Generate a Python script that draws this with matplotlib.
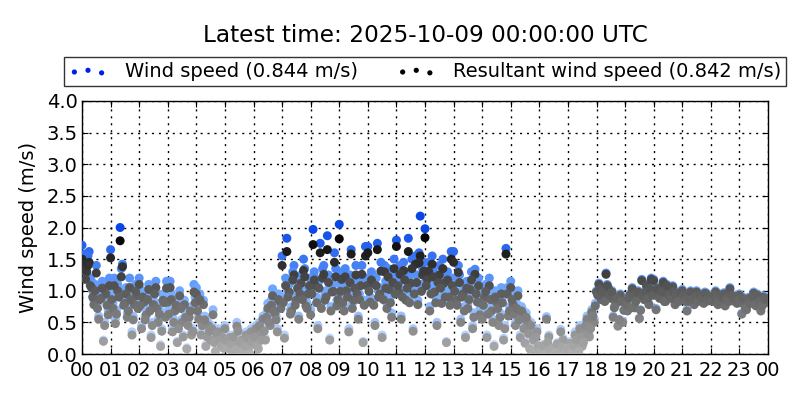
import numpy as np
import matplotlib
matplotlib.use("Agg")
import matplotlib.pyplot as plt
from matplotlib.colors import LinearSegmentedColormap

# ---------------- data ----------------
title_text = "Latest time: 2025-10-09 00:00:00 UTC"
wind_label = "Wind speed (0.844 m/s)"
resultant_label = "Resultant wind speed (0.842 m/s)"
sample_minutes = 5          # each set: one value every 5 minutes (12 per hour row)
offset_minutes_b = 2.5      # set B sits half-way between the set A samples

wind_speed_a = [
    1.72, 1.58, 1.50, 1.62, 1.15, 0.85, 1.40, 0.60, 0.95, 0.22, 1.05, 0.70,   # 00
    1.65, 0.80, 0.55, 1.10, 2.00, 1.42, 0.90, 0.65, 1.20, 0.35, 0.85, 1.00,   # 01
    1.20, 0.45, 0.90, 0.70, 1.10, 0.30, 0.85, 1.15, 0.55, 0.15, 0.95, 0.65,   # 02
    0.90, 1.15, 0.40, 0.75, 0.20, 1.00, 0.55, 0.85, 0.10, 0.65, 0.35, 1.10,   # 03
    1.05, 0.60, 0.35, 0.85, 0.15, 0.50, 0.25, 0.70, 0.05, 0.40, 0.20, 0.30,   # 04
    0.45, 0.15, 0.30, 0.05, 0.20, 0.50, 0.10, 0.25, 0.02, 0.35, 0.12, 0.40,   # 05
    0.20, 0.45, 0.10, 0.35, 0.60, 0.25, 0.80, 0.50, 1.03, 0.70, 0.40, 0.90,   # 06
    1.55, 0.30, 1.83, 1.10, 0.75, 1.40, 0.95, 0.60, 1.25, 1.50, 0.85, 1.05,   # 07
    0.70, 1.97, 1.20, 0.45, 1.75, 1.35, 0.95, 1.87, 0.25, 1.10, 1.60, 0.85,   # 08
    2.05, 1.30, 0.75, 1.10, 0.40, 1.65, 0.95, 1.40, 0.60, 1.20, 0.20, 1.70,   # 09
    1.70, 0.90, 1.25, 0.50, 1.75, 1.05, 0.30, 1.40, 0.80, 1.15, 0.65, 1.50,   # 10
    1.80, 1.10, 0.60, 1.45, 0.95, 1.83, 1.25, 0.40, 1.55, 0.85, 2.18, 1.35,   # 11
    1.98, 1.30, 0.75, 1.55, 1.10, 0.50, 1.40, 0.90, 1.25, 0.20, 1.00, 1.62,   # 12
    1.62, 0.95, 1.40, 0.55, 1.05, 0.30, 0.80, 1.15, 0.45, 1.34, 0.90, 0.70,   # 13
    0.60, 1.00, 0.30, 1.20, 0.75, 0.15, 0.90, 0.50, 1.05, 0.25, 1.67, 0.65,   # 14
    1.15, 0.85, 0.50, 1.00, 0.30, 0.70, 0.20, 0.55, 0.10, 0.35, 0.05, 0.40,   # 15
    0.10, 0.02, 0.05, 0.59, 0.30, 0.00, 0.03, 0.12, 0.00, 0.39, 0.25, 0.05,   # 16
    0.05, 0.20, 0.10, 0.35, 0.25, 0.45, 0.15, 0.40, 0.60, 0.30, 0.70, 0.55,   # 17
    1.00, 1.12, 0.88, 0.95, 1.28, 1.05, 0.90, 0.60, 0.80, 0.45, 0.95, 0.52,   # 18
    0.85, 0.70, 0.95, 1.05, 0.75, 0.90, 0.57, 1.18, 0.88, 1.10, 0.80, 1.20,   # 19
    1.18, 0.72, 1.05, 0.92, 1.15, 0.85, 1.00, 0.95, 1.08, 0.80, 0.98, 0.90,   # 20
    1.02, 0.90, 0.70, 0.85, 0.95, 0.80, 1.00, 0.88, 0.93, 0.82, 0.97, 0.86,   # 21
    0.92, 0.85, 1.00, 0.80, 0.95, 0.88, 0.78, 0.93, 1.05, 0.86, 0.90, 0.82,   # 22
    0.95, 0.65, 0.80, 0.72, 0.90, 0.85, 0.98, 0.78, 0.88, 0.70, 0.92, 0.83,   # 23
]

wind_speed_b = [
    1.45, 1.30, 1.55, 1.20, 1.00, 1.10, 0.80, 0.95, 1.15, 0.50, 0.85, 1.20,   # 00
    0.95, 1.20, 0.70, 1.00, 1.35, 0.85, 1.05, 0.75, 0.95, 0.60, 1.10, 0.80,   # 01
    0.85, 1.00, 0.60, 0.95, 0.75, 0.50, 1.05, 0.80, 0.70, 0.40, 0.90, 1.15,   # 02
    0.70, 0.95, 0.55, 0.85, 0.45, 0.80, 0.30, 0.65, 0.50, 0.75, 0.40, 0.90,   # 03
    0.75, 0.95, 0.50, 0.60, 0.30, 0.40, 0.45, 0.20, 0.35, 0.25, 0.15, 0.10,   # 04
    0.25, 0.10, 0.18, 0.30, 0.08, 0.40, 0.20, 0.05, 0.15, 0.28, 0.00, 0.22,   # 05
    0.30, 0.15, 0.50, 0.25, 0.40, 0.65, 0.55, 0.85, 0.75, 0.60, 0.95, 0.80,   # 06
    0.90, 1.20, 1.00, 0.70, 1.30, 0.85, 1.15, 1.05, 0.95, 1.35, 0.80, 1.20,   # 07
    1.05, 1.30, 0.90, 1.15, 0.80, 1.40, 1.00, 1.25, 0.75, 1.10, 1.35, 0.95,   # 08
    1.10, 0.90, 1.35, 1.00, 1.25, 0.80, 1.15, 1.05, 0.95, 1.40, 0.85, 1.20,   # 09
    1.10, 1.30, 0.85, 1.20, 1.00, 1.45, 0.95, 1.15, 1.35, 0.90, 1.25, 1.05,   # 10
    1.20, 1.40, 1.00, 1.30, 1.15, 0.90, 1.50, 1.05, 1.25, 1.60, 1.10, 1.45,   # 11
    1.20, 1.45, 1.05, 1.35, 0.90, 1.25, 1.15, 1.50, 1.00, 1.30, 0.85, 1.20,   # 12
    1.10, 0.85, 1.25, 1.00, 0.75, 1.15, 0.95, 1.30, 0.65, 1.05, 1.20, 0.90,   # 13
    0.85, 1.10, 0.70, 0.95, 0.55, 1.00, 0.80, 0.65, 0.90, 0.45, 1.05, 0.75,   # 14
    0.95, 0.70, 0.80, 0.60, 0.75, 0.45, 0.65, 0.35, 0.50, 0.25, 0.30, 0.15,   # 15
    0.05, 0.15, 0.00, 0.20, 0.08, 0.10, 0.02, 0.18, 0.05, 0.12, 0.00, 0.08,   # 16
    0.10, 0.02, 0.15, 0.25, 0.05, 0.30, 0.20, 0.50, 0.35, 0.45, 0.65, 0.80,   # 17
    0.95, 1.05, 1.00, 0.85, 1.10, 0.95, 1.00, 0.75, 0.90, 0.55, 0.85, 0.70,   # 18
    0.80, 0.90, 0.75, 0.95, 0.85, 1.00, 0.70, 0.95, 1.00, 0.90, 1.05, 0.95,   # 19
    0.95, 1.05, 0.90, 1.00, 0.85, 1.10, 0.95, 0.90, 1.00, 0.95, 0.85, 1.00,   # 20
    0.95, 0.85, 0.90, 1.00, 0.88, 0.92, 0.85, 0.95, 0.90, 0.98, 0.88, 0.92,   # 21
    0.88, 0.95, 0.90, 0.85, 0.92, 0.97, 0.88, 0.85, 0.95, 0.90, 0.93, 0.87,   # 22
    0.85, 0.90, 0.75, 0.88, 0.82, 0.92, 0.80, 0.95, 0.85, 0.78, 0.88, 0.90,   # 23
]

resultant_speed_a = [
    1.50, 1.42, 1.30, 1.45, 1.05, 0.78, 1.28, 0.55, 0.88, 0.20, 0.95, 0.62,   # 00
    1.52, 0.72, 0.48, 1.00, 1.79, 1.38, 0.80, 0.58, 1.05, 0.30, 0.78, 0.92,   # 01
    1.10, 0.40, 0.82, 0.62, 1.02, 0.26, 0.78, 1.05, 0.50, 0.12, 0.85, 0.58,   # 02
    0.82, 1.05, 0.35, 0.68, 0.18, 0.92, 0.50, 0.78, 0.08, 0.58, 0.30, 0.98,   # 03
    0.95, 0.55, 0.30, 0.78, 0.12, 0.45, 0.22, 0.62, 0.04, 0.35, 0.17, 0.26,   # 04
    0.40, 0.12, 0.26, 0.04, 0.17, 0.44, 0.08, 0.22, 0.02, 0.30, 0.10, 0.35,   # 05
    0.17, 0.40, 0.08, 0.30, 0.55, 0.22, 0.72, 0.45, 0.92, 0.64, 0.35, 0.83,   # 06
    1.40, 0.25, 1.62, 0.98, 0.68, 1.25, 0.85, 0.55, 1.12, 1.32, 0.76, 0.95,   # 07
    0.62, 1.73, 1.08, 0.40, 1.60, 1.20, 0.85, 1.65, 0.22, 0.98, 1.45, 0.76,   # 08
    1.82, 1.18, 0.68, 1.00, 0.35, 1.58, 0.85, 1.25, 0.55, 1.08, 0.18, 1.55,   # 09
    1.60, 0.82, 1.12, 0.45, 1.65, 0.95, 0.26, 1.30, 0.72, 1.02, 0.58, 1.35,   # 10
    1.70, 0.98, 0.55, 1.32, 0.85, 1.62, 1.12, 0.36, 1.42, 0.78, 1.55, 1.25,   # 11
    1.84, 1.18, 0.68, 1.42, 0.98, 0.45, 1.25, 0.80, 1.12, 0.18, 0.90, 1.50,   # 12
    1.45, 0.85, 1.29, 0.50, 0.95, 0.26, 0.72, 1.02, 0.40, 1.26, 0.82, 0.62,   # 13
    0.55, 0.90, 0.26, 1.08, 0.68, 0.12, 0.82, 0.45, 0.95, 0.22, 1.58, 0.60,   # 14
    1.05, 0.78, 0.45, 0.92, 0.26, 0.64, 0.17, 0.50, 0.08, 0.30, 0.04, 0.35,   # 15
    0.08, 0.02, 0.04, 0.55, 0.27, 0.00, 0.02, 0.10, 0.00, 0.35, 0.22, 0.04,   # 16
    0.04, 0.17, 0.08, 0.30, 0.22, 0.40, 0.12, 0.36, 0.55, 0.27, 0.66, 0.50,   # 17
    0.98, 1.10, 0.86, 0.93, 1.26, 1.03, 0.88, 0.58, 0.78, 0.44, 0.93, 0.50,   # 18
    0.83, 0.68, 0.93, 1.03, 0.73, 0.88, 0.56, 1.16, 0.86, 1.08, 0.78, 1.18,   # 19
    1.16, 0.70, 1.03, 0.90, 1.13, 0.83, 0.98, 0.93, 1.06, 0.78, 0.96, 0.88,   # 20
    1.00, 0.88, 0.68, 0.83, 0.93, 0.78, 0.98, 0.86, 0.91, 0.80, 0.95, 0.84,   # 21
    0.90, 0.83, 0.98, 0.78, 0.93, 0.86, 0.76, 0.91, 1.03, 0.84, 0.88, 0.80,   # 22
    0.93, 0.63, 0.78, 0.70, 0.88, 0.83, 0.96, 0.76, 0.86, 0.68, 0.90, 0.81,   # 23
]

resultant_speed_b = [
    1.33, 1.18, 1.40, 1.08, 0.90, 1.00, 0.72, 0.86, 1.04, 0.45, 0.77, 1.08,   # 00
    0.86, 1.08, 0.63, 0.90, 1.22, 0.77, 0.95, 0.68, 0.86, 0.54, 0.99, 0.72,   # 01
    0.77, 0.90, 0.54, 0.86, 0.68, 0.45, 0.95, 0.72, 0.63, 0.36, 0.81, 1.04,   # 02
    0.63, 0.86, 0.50, 0.77, 0.40, 0.72, 0.27, 0.58, 0.45, 0.68, 0.36, 0.81,   # 03
    0.68, 0.86, 0.45, 0.54, 0.27, 0.36, 0.40, 0.18, 0.32, 0.22, 0.13, 0.09,   # 04
    0.22, 0.09, 0.16, 0.27, 0.07, 0.36, 0.18, 0.04, 0.13, 0.25, 0.00, 0.20,   # 05
    0.27, 0.13, 0.45, 0.22, 0.36, 0.58, 0.50, 0.77, 0.68, 0.54, 0.86, 0.72,   # 06
    0.81, 1.08, 0.90, 0.63, 1.17, 0.77, 1.04, 0.95, 0.86, 1.22, 0.72, 1.08,   # 07
    0.95, 1.17, 0.81, 1.04, 0.72, 1.26, 0.90, 1.13, 0.68, 0.99, 1.22, 0.86,   # 08
    0.99, 0.81, 1.22, 0.90, 1.13, 0.72, 1.04, 0.95, 0.86, 1.26, 0.77, 1.08,   # 09
    0.99, 1.17, 0.77, 1.08, 0.90, 1.31, 0.86, 1.04, 1.22, 0.81, 1.13, 0.95,   # 10
    1.08, 1.26, 0.90, 1.17, 1.04, 0.81, 1.35, 0.95, 1.13, 1.44, 0.99, 1.31,   # 11
    1.08, 1.31, 0.95, 1.22, 0.81, 1.13, 1.04, 1.35, 0.90, 1.17, 0.77, 1.08,   # 12
    0.99, 0.77, 1.13, 0.90, 0.68, 1.04, 0.86, 1.17, 0.58, 0.95, 1.08, 0.81,   # 13
    0.77, 0.99, 0.63, 0.86, 0.50, 0.90, 0.72, 0.58, 0.81, 0.40, 0.95, 0.68,   # 14
    0.86, 0.63, 0.72, 0.54, 0.68, 0.40, 0.58, 0.32, 0.45, 0.22, 0.27, 0.13,   # 15
    0.04, 0.13, 0.00, 0.18, 0.07, 0.09, 0.02, 0.16, 0.04, 0.11, 0.00, 0.07,   # 16
    0.09, 0.02, 0.13, 0.22, 0.04, 0.27, 0.18, 0.45, 0.32, 0.40, 0.60, 0.76,   # 17
    0.93, 1.03, 0.98, 0.83, 1.08, 0.93, 0.98, 0.73, 0.88, 0.54, 0.83, 0.69,   # 18
    0.78, 0.88, 0.73, 0.93, 0.83, 0.98, 0.69, 0.93, 0.98, 0.88, 1.03, 0.93,   # 19
    0.93, 1.03, 0.88, 0.98, 0.83, 1.08, 0.93, 0.88, 0.98, 0.93, 0.83, 0.98,   # 20
    0.93, 0.83, 0.88, 0.98, 0.86, 0.90, 0.83, 0.93, 0.88, 0.96, 0.86, 0.90,   # 21
    0.86, 0.93, 0.88, 0.83, 0.90, 0.95, 0.86, 0.83, 0.93, 0.88, 0.91, 0.85,   # 22
    0.83, 0.88, 0.73, 0.86, 0.80, 0.90, 0.78, 0.93, 0.83, 0.76, 0.86, 0.88,   # 23
]

hour_tick_labels = ["00", "01", "02", "03", "04", "05", "06", "07", "08", "09",
                    "10", "11", "12", "13", "14", "15", "16", "17", "18", "19",
                    "20", "21", "22", "23", "00"]
y_ticks = [0.0, 0.5, 1.0, 1.5, 2.0, 2.5, 3.0, 3.5, 4.0]

# ---------------- plotting ----------------
plt.rcParams['font.family'] = ['DejaVu Sans']

hours_a = np.arange(len(wind_speed_a)) * sample_minutes / 60.0
hours_b = hours_a + offset_minutes_b / 60.0
hours = np.concatenate([hours_a, hours_b])
wind = np.concatenate([wind_speed_a, wind_speed_b])
resultant = np.concatenate([resultant_speed_a, resultant_speed_b])

blue_cmap = LinearSegmentedColormap.from_list(
    "wind_blue", [(0.0, "#d4e4ff"), (0.5, "#6ea8ff"), (1.0, "#0a46e6")])
grey_cmap = LinearSegmentedColormap.from_list(
    "res_grey", [(0.0, "#b0b0b0"), (0.5, "#5a5a5a"), (0.9, "#080808"), (1.0, "#000000")])

fig = plt.figure(figsize=(8, 4), dpi=100)
ax = fig.add_axes([0.1025, 0.115, 0.8575, 0.6325])

ax.scatter(hours, wind, c=wind, cmap=blue_cmap, vmin=0, vmax=2.0,
           s=42, linewidths=0, zorder=3)
ax.scatter(hours, resultant, c=resultant, cmap=grey_cmap, vmin=0, vmax=2.0,
           s=42, linewidths=0, zorder=4)

ax.set_xlim(0, 24)
ax.set_ylim(0, 4.0)
ax.set_xticks(np.arange(len(hour_tick_labels)))
ax.set_xticklabels(hour_tick_labels)
ax.set_yticks(y_ticks)
ax.set_yticklabels([f"{v:.1f}" for v in y_ticks])
ax.tick_params(direction="in", top=True, right=True, length=4, width=0.8,
               labelsize=14, colors="black")
ax.tick_params(axis="x", pad=5)
ax.tick_params(axis="y", pad=3)
ax.grid(True, linestyle=(0, (1.5, 3.5)), color="black", linewidth=1.0, zorder=1)
ax.set_axisbelow(True)
for sp in ax.spines.values():
    sp.set_color("black")
    sp.set_linewidth(1.0)
ax.set_ylabel("Wind speed (m/s)", fontsize=14, labelpad=6)

# legend proxies
h1 = ax.scatter([np.nan] * 3, [np.nan] * 3, s=14, color="#0020e6", linewidths=0)
h2 = ax.scatter([np.nan] * 3, [np.nan] * 3, s=14, color="black", linewidths=0)
leg = fig.legend([h1, h2], [wind_label, resultant_label], loc="center",
                 bbox_to_anchor=(0.53125, 0.821), ncol=2, fontsize=14,
                 frameon=True, fancybox=False, edgecolor="black",
                 scatterpoints=3, handlelength=2.0, handletextpad=0.9,
                 columnspacing=2.0, borderpad=0.25, borderaxespad=0)
leg.get_frame().set_linewidth(1.0)

fig.text(0.53125, 0.9125, title_text, ha="center", va="center", fontsize=16.7)

fig.savefig("out.png", dpi=100)
